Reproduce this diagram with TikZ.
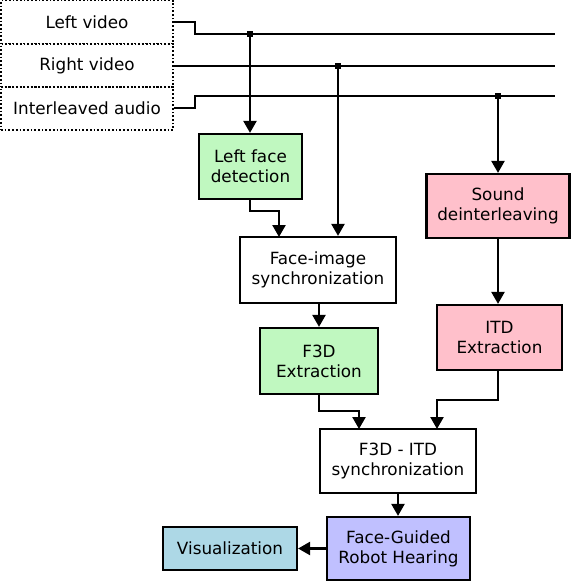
\documentclass[tikz,border=0pt]{standalone}
\usepackage{fontspec}
\setmainfont{DejaVu Sans}
\usetikzlibrary{arrows.meta}
\definecolor{boxgreen}{HTML}{C0F8C0}
\definecolor{boxpink}{HTML}{FFC0CB}
\definecolor{boxlav}{HTML}{C0C0FF}
\definecolor{boxblue}{HTML}{ADD8E6}
\tikzset{
  blk/.style={draw=black, line width=2.2pt, align=center, inner sep=0pt,
    font=\fontsize{16.8}{20}\selectfont},
  src/.style={draw=black, line width=1.7pt, dotted, align=center, inner sep=0pt,
    minimum width=172pt, minimum height=43pt, font=\fontsize{16.8}{20}\selectfont},
  wire/.style={line width=2.3pt, line join=miter},
  arr/.style={wire, -{Triangle[length=12pt,width=13pt]}},
  jdot/.style={fill=black, draw=none, minimum size=6pt, inner sep=0pt, rectangle}
}
\begin{document}
\begin{tikzpicture}[x=1pt,y=-1pt]
\useasboundingbox (0,0) rectangle (573,584);
% sources
\node[src] (LV) at (87,22) {Left video};
\node[src] (RV) at (87,65.5) {Right video};
\node[src] (IA) at (87,108.5) {Interleaved audio};
% blocks
\node[blk, fill=boxgreen, minimum width=103pt, minimum height=65pt] (LFD) at (250.5,166.5) {Left face\\detection};
\node[blk, fill=boxpink, minimum width=143pt, minimum height=64pt] (SD) at (498,206) {Sound\\deinterleaving};
\node[blk, fill=white, minimum width=156pt, minimum height=66pt] (FIS) at (318,270) {Face-image\\synchronization};
\node[blk, fill=boxgreen, minimum width=118pt, minimum height=66pt] (F3D) at (319,361) {F3D\\Extraction};
\node[blk, fill=boxpink, minimum width=125pt, minimum height=65pt] (ITD) at (499.5,337.5) {ITD\\Extraction};
\node[blk, fill=white, minimum width=156pt, minimum height=64pt] (SYN) at (398,461) {F3D - ITD\\synchronization};
\node[blk, fill=boxlav, minimum width=143pt, minimum height=63pt] (FG) at (398.5,548.5) {Face-Guided\\Robot Hearing};
\node[blk, fill=boxblue, minimum width=134pt, minimum height=43pt] (VIS) at (230,548.5) {Visualization};
% bus ends and junctions
\coordinate (lvend) at (555,34);
\coordinate (rvend) at (555,66);
\coordinate (iaend) at (555,96);
\node[jdot] (j1) at (250,34) {};
\node[jdot] (j2) at (338,66) {};
\node[jdot] (j3) at (498,96) {};
% bus lines
\draw[wire] (LV.east |- 0,22) -- (195,22) -- (195,34) -- (lvend);
\draw[wire] (RV.east |- 0,66) -- (rvend);
\draw[wire] (IA.east |- 0,108) -- (195,108) -- (195,96) -- (iaend);
% taps
\draw[arr] (j1.center) -- (j1 |- LFD.north);
\draw[arr] (j2.center) -- (j2 |- FIS.north);
\draw[arr] (j3.center) -- (j3 |- SD.north);
% flow
\draw[arr] (LFD.south -| j1) -- (250,211) -- (279,211) -- (279,237);
\draw[arr] (FIS.south -| F3D.north) -- (F3D.north);
\draw[arr] (SD.south) -- (SD.south |- ITD.north);
\draw[arr] (F3D.south) -- (319,411) -- (359,411) -- (359,429);
\draw[arr] (ITD.south -| SD.south) -- (498,400) -- (437,400) -- (437,429);
\draw[arr] (SYN.south) -- (FG.north -| SYN.south);
\draw[arr] (FG.west) -- (VIS.east);
\end{tikzpicture}
\end{document}
